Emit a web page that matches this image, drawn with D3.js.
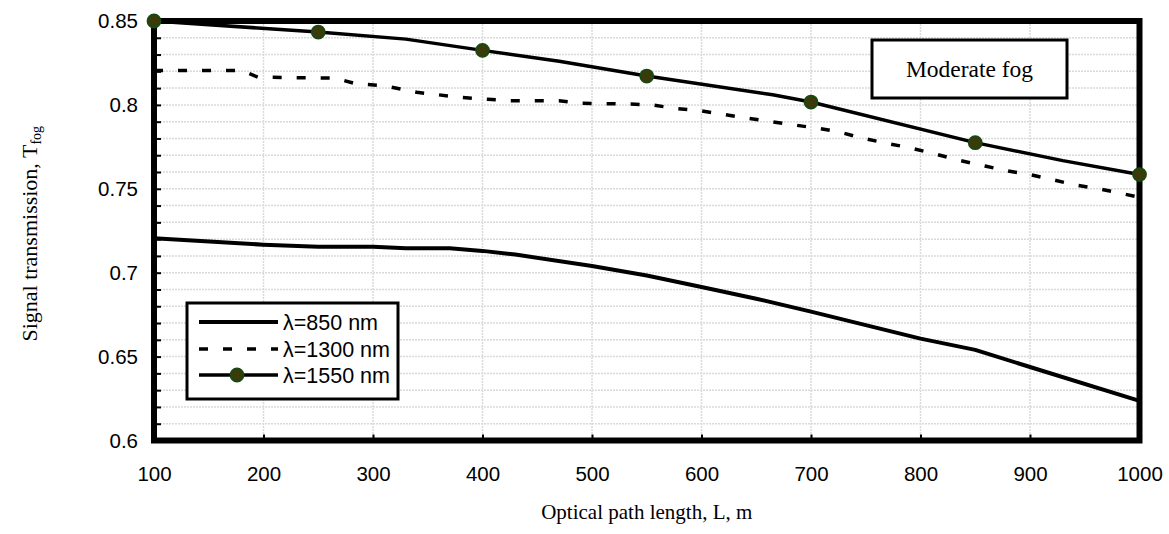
<!DOCTYPE html>
<html>
<head>
<meta charset="utf-8">
<script src="https://cdn.jsdelivr.net/npm/d3@7"></script>
<style>
  html, body { margin: 0; padding: 0; background: #fff; }
  svg { display: block; }
</style>
</head>
<body>
<svg id="chart" width="1169" height="534"></svg>
<script>
// Transmission through moderate fog vs. optical path length

// λ = 850 nm (solid line)
const x850 = [100, 200, 250, 300, 330, 370, 400, 430, 500, 550, 600, 650, 700, 800, 850, 900, 1000];
const y850 = [0.7205, 0.7167, 0.7155, 0.7155, 0.7145, 0.7145, 0.7130, 0.7108, 0.7040, 0.6983, 0.6915, 0.6845, 0.6768, 0.6607, 0.6540, 0.6438, 0.6236];

// λ = 1300 nm (dashed line)
const x1300 = [100, 180, 195, 265, 285, 310, 340, 360, 380, 405, 425, 470, 490, 535, 555, 575, 600, 620, 640, 660, 685, 705, 725, 745, 770, 790, 815, 835, 860, 880, 900, 920, 940, 965, 1000];
const y1300 = [0.8205, 0.8205, 0.8165, 0.8160, 0.8125, 0.8115, 0.8075, 0.8060, 0.8045, 0.8033, 0.8025, 0.8025, 0.8010, 0.8005, 0.8000, 0.7980, 0.7964, 0.7944, 0.7922, 0.7904, 0.7880, 0.7862, 0.7840, 0.7805, 0.7770, 0.7745, 0.7705, 0.7670, 0.7634, 0.7606, 0.7585, 0.7555, 0.7525, 0.7497, 0.7450];

// λ = 1550 nm (solid line with markers)
const x1550 = [100, 250, 330, 400, 470, 550, 665, 700, 850, 930, 1000];
const y1550 = [0.8500, 0.8434, 0.8392, 0.8325, 0.8260, 0.8172, 0.8060, 0.8017, 0.7775, 0.7668, 0.7585];
const marker1550 = [100, 250, 400, 550, 700, 850, 1000];

const xTicks = [100, 200, 300, 400, 500, 600, 700, 800, 900, 1000];
const yTicks = [0.6, 0.65, 0.7, 0.75, 0.8, 0.85];
const yTickLabels = ["0.6", "0.65", "0.7", "0.75", "0.8", "0.85"];
const yMinor = d3.range(60, 86).map(v => v / 100);

const seriesNames = ["λ=850 nm", "λ=1300 nm", "λ=1550 nm"];
const boxTitle = "Moderate fog";
const xTitle = "Optical path length, L, m";

const svg = d3.select("#chart");
const sans = "'Liberation Sans', Arial, sans-serif";
const serif = "'Liberation Serif', 'Times New Roman', serif";

const pLeft = 154, pRight = 1139.5, pTop = 21, pBottom = 440.5;
const x = d3.scaleLinear().domain([100, 1000]).range([pLeft, pRight]);
const y = d3.scaleLinear().domain([0.6, 0.85]).range([pBottom, pTop]);

// gridlines
const grid = svg.append("g").attr("stroke", "#dadada").attr("stroke-width", 1.5).attr("stroke-dasharray", "2,1");
grid.selectAll("line.h").data(yMinor).join("line").attr("class", "h")
  .attr("x1", pLeft).attr("x2", pRight)
  .attr("y1", d => y(d)).attr("y2", d => y(d));
grid.selectAll("line.v").data(xTicks.slice(1, -1)).join("line").attr("class", "v")
  .attr("x1", d => x(d)).attr("x2", d => x(d))
  .attr("y1", pTop).attr("y2", pBottom);

// axes: ticks point inward, labels outside
const yAxis = d3.axisLeft(y).tickValues(yMinor).tickSize(-7).tickFormat(d => {
  const i = yTicks.findIndex(t => Math.abs(t - d) < 1e-9);
  return i >= 0 ? yTickLabels[i] : "";
}).tickPadding(16);
const gy = svg.append("g").attr("transform", `translate(${pLeft},0)`).call(yAxis);
gy.select(".domain").remove();
gy.selectAll(".tick line").attr("stroke", "#000").attr("stroke-width", 2);
gy.selectAll(".tick text").attr("font-family", sans).attr("font-size", 20.5).attr("fill", "#000");

const xAxis = d3.axisBottom(x).tickValues(xTicks).tickSize(-6).tickFormat(d3.format("d")).tickPadding(26);
const gx = svg.append("g").attr("transform", `translate(0,${pBottom})`).call(xAxis);
gx.select(".domain").remove();
gx.selectAll(".tick line").attr("stroke", "#000").attr("stroke-width", 2);
gx.selectAll(".tick text").attr("font-family", sans).attr("font-size", 20.5).attr("fill", "#000");

// plot frame
svg.append("rect")
  .attr("x", pLeft).attr("y", pTop).attr("width", pRight - pLeft).attr("height", pBottom - pTop)
  .attr("fill", "none").attr("stroke", "#000").attr("stroke-width", 6);

const line = d3.line().x(d => x(d[0])).y(d => y(d[1]));

svg.append("path").datum(d3.zip(x850, y850)).attr("d", line)
  .attr("fill", "none").attr("stroke", "#000").attr("stroke-width", 4).attr("stroke-linejoin", "round");
svg.append("path").datum(d3.zip(x1300, y1300)).attr("d", line)
  .attr("fill", "none").attr("stroke", "#000").attr("stroke-width", 3.5).attr("stroke-dasharray", "9,15");
svg.append("path").datum(d3.zip(x1550, y1550)).attr("d", line)
  .attr("fill", "none").attr("stroke", "#000").attr("stroke-width", 3.5).attr("stroke-linejoin", "round");

const markers = marker1550.map(v => [v, y1550[x1550.indexOf(v)]]);
svg.append("g").selectAll("circle").data(markers).join("circle")
  .attr("cx", d => x(d[0])).attr("cy", d => y(d[1])).attr("r", 6.5)
  .attr("fill", "#3b3a0a").attr("stroke", "#174a12").attr("stroke-width", 1.8);

// title box
const tb = svg.append("g");
tb.append("rect").attr("x", 872).attr("y", 40).attr("width", 195).attr("height", 58)
  .attr("fill", "#fff").attr("stroke", "#000").attr("stroke-width", 3);
tb.append("text").attr("x", 969.5).attr("y", 77).attr("text-anchor", "middle")
  .attr("font-family", serif).attr("font-size", 23.5).attr("fill", "#000").text(boxTitle);

// legend
const lg = svg.append("g");
lg.append("rect").attr("x", 187).attr("y", 303).attr("width", 211).attr("height", 96)
  .attr("fill", "#fff").attr("stroke", "#000").attr("stroke-width", 3);
const rows = [322, 349, 375];
const styles = [
  { w: 4, dash: null, marker: false },
  { w: 3.5, dash: "9,15", marker: false },
  { w: 3.5, dash: null, marker: true }
];
seriesNames.forEach((name, i) => {
  const s = styles[i];
  const ln = lg.append("line").attr("x1", 199).attr("x2", 278).attr("y1", rows[i]).attr("y2", rows[i])
    .attr("stroke", "#000").attr("stroke-width", s.w);
  if (s.dash) ln.attr("stroke-dasharray", s.dash);
  if (s.marker) lg.append("circle").attr("cx", 237).attr("cy", rows[i]).attr("r", 6.5)
    .attr("fill", "#3b3a0a").attr("stroke", "#174a12").attr("stroke-width", 1.8);
  lg.append("text").attr("x", 283).attr("y", rows[i] + 7.5).attr("font-family", sans)
    .attr("font-size", 21.5).attr("fill", "#000").text(name);
});

// axis titles
svg.append("text").attr("x", (pLeft + pRight) / 2).attr("y", 519).attr("text-anchor", "middle")
  .attr("font-family", serif).attr("font-size", 21).attr("fill", "#000").text(xTitle);

const yt = svg.append("text").attr("transform", `translate(37,${(pTop + pBottom) / 2 + 3}) rotate(-90)`)
  .attr("text-anchor", "middle").attr("font-family", serif).attr("font-size", 22).attr("fill", "#000");
yt.append("tspan").text("Signal transmission, T");
yt.append("tspan").attr("font-size", 14).attr("dy", 4).text("fog");
</script>
</body>
</html>
